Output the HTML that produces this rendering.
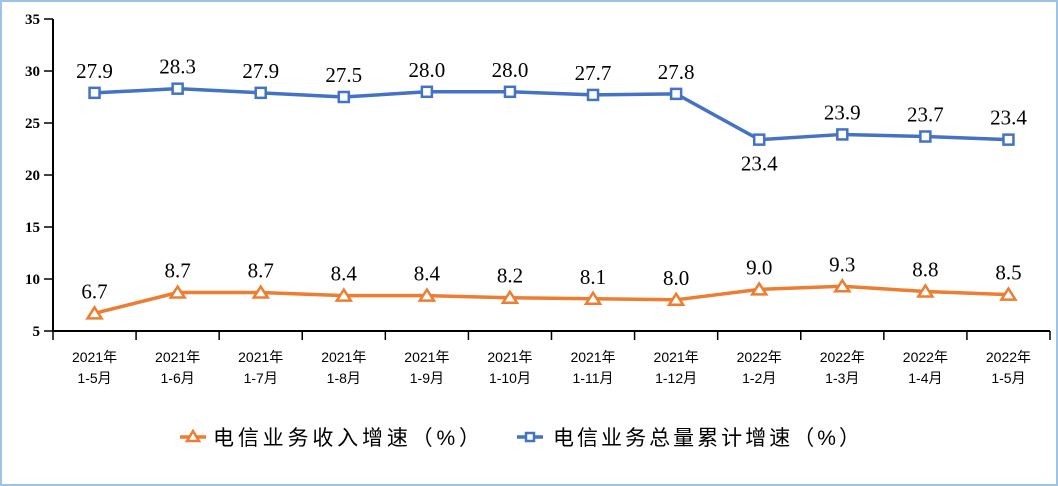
<!DOCTYPE html>
<html><head><meta charset="utf-8"><style>
body{margin:0;background:#fff;}
svg{display:block;}
</style></head><body>
<svg width="1058" height="486" xmlns="http://www.w3.org/2000/svg">
<rect x="1" y="1" width="1056" height="484" fill="#fff" stroke="#9DC3E6" stroke-width="2"/>
<g id="g"></g>
</svg>
<script>
const categories1=["2021年","2021年","2021年","2021年","2021年","2021年","2021年","2021年","2022年","2022年","2022年","2022年"];
const categories2=["1-5月","1-6月","1-7月","1-8月","1-9月","1-10月","1-11月","1-12月","1-2月","1-3月","1-4月","1-5月"];
const revenue=[6.7,8.7,8.7,8.4,8.4,8.2,8.1,8.0,9.0,9.3,8.8,8.5];
const volume=[27.9,28.3,27.9,27.5,28.0,28.0,27.7,27.8,23.4,23.9,23.7,23.4];
const yTicks=[5,10,15,20,25,30,35];
const NS="http://www.w3.org/2000/svg";
const g=document.getElementById('g');
const X0=53,X1=1050,Y0=331,Y1=19,YMIN=5,YMAX=35;
const cw=(X1-X0)/categories1.length;
const xs=i=>X0+cw*(i+0.5);
const ys=v=>Y0-(v-YMIN)/(YMAX-YMIN)*(Y0-Y1);
function el(t,a,txt){const e=document.createElementNS(NS,t);for(const k in a)e.setAttribute(k,a[k]);if(txt!==undefined)e.textContent=txt;g.appendChild(e);return e;}
const serif='"Liberation Serif",serif', cjk='"Liberation Sans","Noto Sans CJK SC",sans-serif';
let a=el('line',{x1:X0,y1:Y1,x2:X0,y2:Y0,stroke:'#000','stroke-width':2});


a=el('line',{x1:X0,y1:Y0,x2:X1,y2:Y0,stroke:'#000','stroke-width':2});


yTicks.forEach(v=>{
 const t=el('line',{x1:X0-9,y1:ys(v),x2:X0,y2:ys(v),stroke:'#000','stroke-width':1.5});
 
 
 const l=el('text',{x:X0-13,y:ys(v)+5,'text-anchor':'end','font-family':serif,'font-size':15,'font-weight':'bold'},v);
 
 
});
for(let i=0;i<=categories1.length;i++){
 const t=el('line',{x1:X0+cw*i,y1:Y0,x2:X0+cw*i,y2:Y0+9,stroke:'#000','stroke-width':1.5});
 
 
}
categories1.forEach((c,i)=>{
 const l=el('text',{x:xs(i),y:362,'text-anchor':'middle','font-family':cjk,'font-size':14},c);
 
 
 const l2=el('text',{x:xs(i),y:383,'text-anchor':'middle','font-family':cjk,'font-size':14},categories2[i]);
 
 
});
function series(vals,color,marker,name,labelBelow){
 const p=el('polyline',{points:vals.map((v,i)=>xs(i)+','+ys(v)).join(' '),fill:'none',stroke:color,'stroke-width':3.5});
 
 
 vals.forEach((v,i)=>{
  const x=xs(i),y=ys(v);let m;
  if(marker==='sq') m=el('rect',{x:x-5,y:y-5,width:10,height:10,fill:'#fff',stroke:color,'stroke-width':2.5});
  else m=el('polygon',{points:`${x},${y-6} ${x-7},${y+5} ${x+7},${y+5}`,fill:'#fff',stroke:color,'stroke-width':2.5});
  
  
  const below=labelBelow&&labelBelow(i);
  const t=el('text',{x:x,y:below?y+31:y-15,'text-anchor':'middle','font-family':serif,'font-size':21},v.toFixed(1));
  
  
 });
}
series(volume,'#4472C4','sq','volume',i=>i===8);
series(revenue,'#ED7D31','tri','revenue');
let lg=el('line',{x1:180,y1:437,x2:206,y2:437,stroke:'#ED7D31','stroke-width':3.5});


lg=el('polygon',{points:'193,431 187,441 199,441',fill:'#fff',stroke:'#ED7D31','stroke-width':2.5});


lg=el('text',{x:213,y:445,'font-family':cjk,'font-size':21,textLength:267,lengthAdjust:'spacing'},'电信业务收入增速（%）');


lg=el('line',{x1:517,y1:437,x2:543,y2:437,stroke:'#4472C4','stroke-width':3.5});


lg=el('rect',{x:526,y:433,width:8,height:8,fill:'#fff',stroke:'#4472C4','stroke-width':2.5});


lg=el('text',{x:553,y:445,'font-family':cjk,'font-size':21,textLength:307,lengthAdjust:'spacing'},'电信业务总量累计增速（%）');


</script>
</body></html>
